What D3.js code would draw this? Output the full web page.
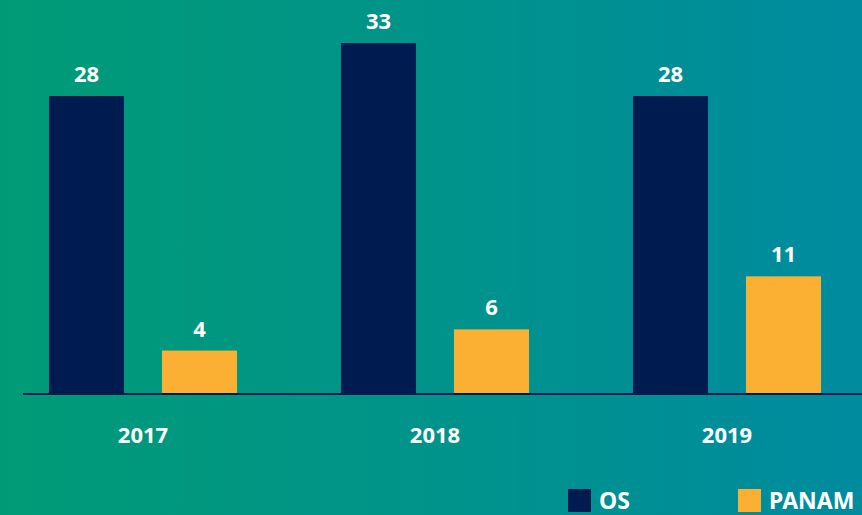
<!DOCTYPE html>
<html>
<head>
<meta charset="utf-8">
<script src="https://cdn.jsdelivr.net/npm/d3@7"></script>
<style>
  html, body { margin: 0; padding: 0; overflow: hidden; }
  svg { display: block; }
  text { font-family: "Noto Sans", "Open Sans", sans-serif; font-weight: bold; fill: #ffffff; }
</style>
</head>
<body>
<div id="chart"></div>
<script>
    // data
    var years = ["2017", "2018", "2019"];
    var series = ["OS", "PANAM"];
    var osValues = [28, 33, 28];
    var panamValues = [4, 6, 11];
    var colors = ["#001b50", "#fbb034"];

    var W = 862, H = 515;
    var baseline = 393;

    var svg = d3.select("#chart")
      .append("svg")
      .attr("width", W)
      .attr("height", H);

    // background gradient
    var grad = svg.append("defs").append("linearGradient")
      .attr("id", "bg")
      .attr("x1", "0%").attr("x2", "100%")
      .attr("y1", "0%").attr("y2", "0%");
    grad.append("stop").attr("offset", "0%").attr("stop-color", "#009b76");
    grad.append("stop").attr("offset", "100%").attr("stop-color", "#008b9f");
    svg.append("rect")
      .attr("width", W)
      .attr("height", H)
      .attr("fill", "url(#bg)");

    // scales
    var x0 = d3.scaleBand()
      .domain(years)
      .range([-3, 873])
      .paddingInner(0.356)
      .paddingOuter(0.178);

    var x1 = d3.scaleBand()
      .domain(series)
      .range([0, x0.bandwidth()])
      .paddingInner(0.336)
      .paddingOuter(0);

    var y = d3.scaleLinear()
      .domain([0, 33])
      .range([baseline, 43]);

    var rows = years.map(function (yr, i) {
      return { year: yr, values: [osValues[i], panamValues[i]] };
    });

    var groups = svg.selectAll(".group")
      .data(rows)
      .enter().append("g")
      .attr("transform", function (d) { return "translate(" + x0(d.year) + ",0)"; });

    var cells = groups.selectAll(".cell")
      .data(function (d) {
        return series.map(function (s, j) { return { key: s, value: d.values[j], j: j }; });
      })
      .enter().append("g");

    cells.append("rect")
      .attr("x", function (d) { return x1(d.key); })
      .attr("y", function (d) { return y(d.value); })
      .attr("width", x1.bandwidth())
      .attr("height", function (d) { return baseline - y(d.value); })
      .attr("fill", function (d) { return colors[d.j]; });

    cells.append("text")
      .attr("x", function (d) { return x1(d.key) + x1.bandwidth() / 2; })
      .attr("y", function (d) { return y(d.value) - 14; })
      .attr("text-anchor", "middle")
      .style("font-size", "22px")
      .text(function (d) { return d.value; });

    // axis
    var xAxis = svg.append("g")
      .attr("transform", "translate(0," + baseline + ")")
      .call(d3.axisBottom(x0).tickSize(0).tickPadding(34));
    xAxis.select(".domain").remove();
    xAxis.selectAll("text")
      .style("font-size", "22px")
      .style("font-family", "'Noto Sans', sans-serif")
      .style("font-weight", "bold")
      .attr("fill", "#ffffff");

    svg.append("line")
      .attr("x1", 23)
      .attr("x2", W)
      .attr("y1", baseline + 1)
      .attr("y2", baseline + 1)
      .attr("stroke", "#001b50")
      .attr("stroke-width", 2);

    // legend
    var legendX = [568, 738];
    var legend = svg.selectAll(".legend")
      .data(series)
      .enter().append("g")
      .attr("transform", function (d, i) { return "translate(" + legendX[i] + ",489)"; });
    legend.append("rect")
      .attr("width", 23)
      .attr("height", 23)
      .attr("fill", function (d, i) { return colors[i]; });
    legend.append("text")
      .attr("x", 31)
      .attr("y", 20)
      .style("font-size", "23px")
      .text(function (d) { return d; });
</script>
</body>
</html>
